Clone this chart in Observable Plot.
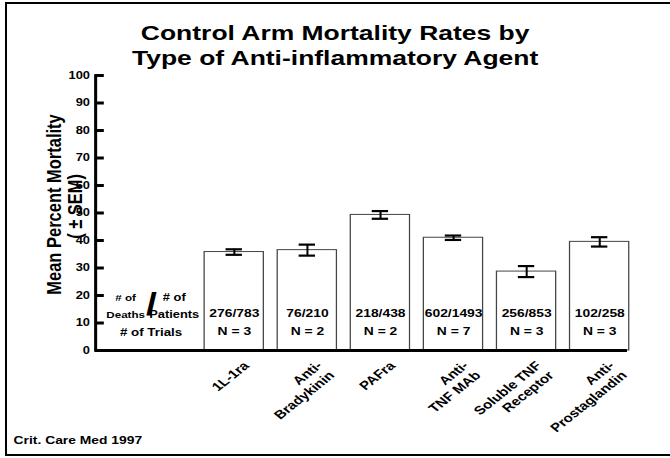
<!DOCTYPE html>
<html>
<head>
<meta charset="utf-8">
<script src="https://cdn.jsdelivr.net/npm/d3@7"></script>
<script src="https://cdn.jsdelivr.net/npm/@observablehq/plot@0.6"></script>
<style>
html, body { margin: 0; padding: 0; background: #fff; overflow: hidden; width: 670px; height: 458px; }
#frame { position: absolute; left: 5px; top: 2px; width: 700px; height: 450px; border: 2.5px solid #000; border-right: none; z-index: 10; pointer-events: none; }
#wrap { position: absolute; left: 0; top: 0; width: 532px; height: 458px; transform: scaleX(1.26); transform-origin: 0 0; font-family: "Liberation Sans", Arial, sans-serif; color: #000; }
#title { height: 68px; box-sizing: border-box; padding-top: 20px; text-align: center; font-weight: bold; font-size: 21px; line-height: 25px; margin: 0; }
</style>
</head>
<body>
<div id="frame"></div>
<div id="wrap">
  <div id="title">Control Arm Mortality Rates by<br>Type of Anti-inflammatory Agent</div>
  <div id="chart"></div>
</div>
<script>
const agents = ["1L-1ra", "Anti-\nBradykinin", "PAFra", "Anti-\nTNF MAb", "Soluble TNF\nReceptor", "Anti-\nProstaglandin"];
const meanMortality = [35.8, 36.5, 49.3, 41.0, 28.7, 39.5];
const semValues = [1.0, 2.0, 1.4, 0.8, 2.0, 1.7];
const deathsPatients = ["276/783", "76/210", "218/438", "602/1493", "256/853", "102/258"];
const trialCounts = [3, 2, 2, 7, 3, 3];
const yTicks = [0, 10, 20, 30, 40, 50, 60, 70, 80, 90, 100];

const data = agents.map((a, i) => ({
  agent: a,
  mean: meanMortality[i],
  sem: semValues[i],
  dp: deathsPatients[i],
  n: "N = " + trialCounts[i]
}));

const bold = "bold";
const chart = Plot.plot({
  width: 532,
  height: 390,
  marginTop: 7,
  marginBottom: 108,
  marginLeft: 75.4,
  marginRight: 34.4,
  style: { fontFamily: "Liberation Sans, Arial, sans-serif", color: "#000", background: "transparent", overflow: "visible" },
  x: { type: "band", domain: agents, range: [149.3, 511.9], padding: 0.19, axis: null },
  y: { domain: [0, 100] },
  marks: [
    Plot.barY(data, { x: "agent", y: "mean", fill: "white", stroke: "#444", strokeWidth: 1 }),
    Plot.ruleX(data, { x: "agent", y1: d => d.mean - d.sem, y2: d => d.mean + d.sem, strokeWidth: 1.6 }),
    Plot.tickY(data, { x: "agent", y: d => d.mean + d.sem, insetLeft: 17, insetRight: 17, strokeWidth: 2.2 }),
    Plot.tickY(data, { x: "agent", y: d => d.mean - d.sem, insetLeft: 17, insetRight: 17, strokeWidth: 2.2 }),
    Plot.text(data, { x: "agent", y: 13.5, text: "dp", fontSize: 11, fontWeight: bold }),
    Plot.text(data, { x: "agent", y: 6.9, text: "n", fontSize: 11, fontWeight: bold }),
    Plot.text(data, { x: "agent", y: 0, text: "agent", rotate: -45, textAnchor: "end", lineAnchor: "top", dx: 5.5, dy: 9, fontSize: 12, fontWeight: bold, lineHeight: 1.15 }),
    Plot.ruleY([0], { strokeWidth: 3 }),
    Plot.frame({ anchor: "left", strokeWidth: 2.4 }),
    Plot.axisY({ ticks: yTicks, tickSize: 0, tickPadding: 4.5, fontSize: 10.2, fontWeight: bold, label: null }),
    Plot.axisY({ ticks: yTicks, tickSize: 7, dx: 7, fill: "none", strokeWidth: 3, label: null }),
    Plot.text(["Mean Percent Mortality"], { text: d => d, frameAnchor: "left", textAnchor: "middle", y: 53.1, dx: -32.5, rotate: -90, fontSize: 16.5, fontWeight: bold }),
    Plot.text(["( ± SEM)"], { text: d => d, frameAnchor: "left", textAnchor: "middle", y: 52.4, dx: -15.9, rotate: -90, fontSize: 16.5, fontWeight: bold }),
    Plot.text(["# of\nDeaths"], { text: d => d, frameAnchor: "left", textAnchor: "middle", y: 16.8, dx: 23.8, fontSize: 9.2, fontWeight: bold, lineHeight: 1.8 }),
    Plot.text(["/"], { text: d => d, frameAnchor: "left", textAnchor: "middle", y: 16.5, dx: 44.2, fontSize: 31, fontWeight: bold }),
    Plot.text(["# of\nPatients"], { text: d => d, frameAnchor: "left", textAnchor: "middle", y: 16.8, dx: 62.4, fontSize: 10.2, fontWeight: bold, lineHeight: 1.62 }),
    Plot.text(["# of Trials"], { text: d => d, frameAnchor: "left", textAnchor: "middle", y: 6.65, dx: 44, fontSize: 10.6, fontWeight: bold }),
    Plot.text(["Crit. Care Med 1997"], { text: d => d, frameAnchor: "bottom-left", textAnchor: "start", dx: -65.1, dy: 93, fontSize: 11, fontWeight: bold })
  ]
});
document.getElementById("chart").appendChild(chart);
</script>
</body>
</html>
